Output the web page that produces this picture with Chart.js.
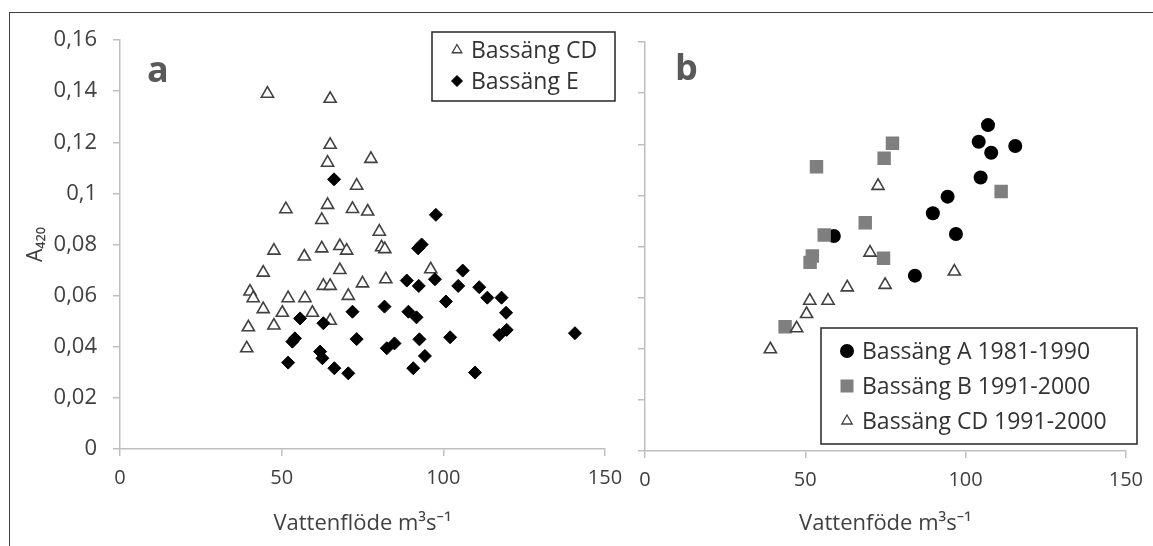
<!DOCTYPE html>
<html><head><meta charset="utf-8">
<script src="https://cdn.jsdelivr.net/npm/chart.js@4.4.0/dist/chart.umd.min.js"></script>
<style>
html,body{margin:0;padding:0;background:#fff;}
#wrap{position:relative;width:1153px;height:546px;overflow:hidden;background:#fff;}
#c1{position:absolute;left:0;top:0;}
#c2{position:absolute;left:600px;top:0;}
.frame{position:absolute;background:#404040;}
</style></head><body>
<div id="wrap">
<div class="frame" style="left:9px;top:12px;width:1144px;height:1px"></div>
<div class="frame" style="left:9px;top:12px;width:1px;height:534px"></div>
<canvas id="c1" width="640" height="546"></canvas>
<canvas id="c2" width="553" height="546"></canvas>
</div>
<script>
// ---- tick labels ----
const xTickValues = [0, 50, 100, 150];
const yTickLabels = ['0','0,02','0,04','0,06','0,08','0,1','0,12','0,14','0,16'];

// ---- panel a ----
const cdFlowA = [45.6,65.0,65.0,64.2,77.6,73.2,51.3,64.2,62.4,71.9,76.6,80.2,47.6,57.0,62.4,68.0,70.1,80.9,81.9,44.3,68.0,75.0,82.2,62.9,65.0,40.2,41.2,52.0,57.2,70.6,44.3,50.2,59.5,65.0,39.7,47.6,39.2,96.1];
const cdAbsA  = [0.139,0.137,0.119,0.112,0.1135,0.103,0.0938,0.0955,0.0896,0.0939,0.0929,0.085,0.0776,0.0753,0.0785,0.0794,0.0776,0.0789,0.0782,0.069,0.070,0.0648,0.0664,0.0638,0.0638,0.0616,0.059,0.059,0.059,0.0599,0.0547,0.0533,0.0533,0.0502,0.0476,0.0483,0.0394,0.0703];
const eFlow = [66.2,97.7,93.3,92.2,106.0,97.4,88.7,92.4,104.6,111.1,113.6,118.0,100.8,81.8,71.9,89.2,91.7,119.4,55.7,62.9,119.6,117.3,140.7,54.1,53.3,73.2,84.9,82.5,92.6,102.1,61.9,62.6,94.3,52.0,66.3,70.6,90.7,109.8];
const eAbs  = [0.1055,0.0916,0.0800,0.0785,0.0698,0.0664,0.0659,0.0638,0.0638,0.0633,0.0592,0.0592,0.0577,0.0557,0.0537,0.0537,0.0515,0.0533,0.0511,0.0492,0.0466,0.0446,0.0453,0.0433,0.0420,0.0430,0.0413,0.0394,0.0429,0.0437,0.0381,0.0355,0.0364,0.0338,0.0316,0.0296,0.0316,0.0299];

// ---- panel b ----
const aFlow = [107.0,104.1,108.0,115.5,104.7,94.4,89.8,97.0,58.9,84.2];
const aAbs  = [0.1275,0.121,0.1167,0.1193,0.107,0.0995,0.093,0.0849,0.0841,0.0686];
const bFlow = [77.2,74.6,53.5,111.1,68.7,55.9,52.2,51.5,74.4,43.7];
const bAbs  = [0.1204,0.1145,0.1112,0.1015,0.0893,0.0845,0.0763,0.0738,0.0754,0.0486];
const cdFlowB = [72.7,70.2,96.5,63.1,74.9,51.4,57.1,50.4,47.3,39.1];
const cdAbsB  = [0.1037,0.0776,0.0702,0.064,0.065,0.0588,0.0588,0.0536,0.048,0.0398];

const seriesLabelsA = ['Bassäng CD','Bassäng E'];
const seriesLabelsB = ['Bassäng A 1981-1990','Bassäng B 1991-2000','Bassäng CD 1991-2000'];

const FONT = "'Open Sans', 'Noto Sans', sans-serif";
const TXT = '#404040';
const AX = '#bfbfbf';

function pts(xs, ys){ return xs.map((x,i)=>({x:x, y:ys[i]})); }

function drawMarker(ctx, style, r, x, y, fill, stroke, bw){
  ctx.save();
  ctx.fillStyle = fill; ctx.strokeStyle = stroke; ctx.lineWidth = bw;
  ctx.beginPath();
  if (style === 'triangle'){
    ctx.moveTo(x, y - r);
    ctx.lineTo(x + Math.sin(2*Math.PI/3)*r, y + 0.5*r);
    ctx.lineTo(x - Math.sin(2*Math.PI/3)*r, y + 0.5*r);
    ctx.closePath();
  } else if (style === 'rectRot'){
    ctx.moveTo(x, y - r); ctx.lineTo(x + r, y); ctx.lineTo(x, y + r); ctx.lineTo(x - r, y); ctx.closePath();
  } else if (style === 'circle'){
    ctx.arc(x, y, r, 0, Math.PI*2);
  } else if (style === 'rect'){
    ctx.rect(x - r, y - r, 2*r, 2*r);
  }
  ctx.fill();
  if (bw > 0) ctx.stroke();
  ctx.restore();
}

function legendPlugin(cfg){
  return {
    id: 'customLegend',
    afterDraw(chart){
      const ctx = chart.ctx;
      ctx.save();
      ctx.font = "bold 36px " + FONT;
      ctx.fillStyle = '#595959';
      ctx.textBaseline = 'middle';
      ctx.textAlign = 'left';
      ctx.fillText(cfg.letter, cfg.letterX, cfg.letterY);
      ctx.strokeStyle = '#262626';
      ctx.lineWidth = 1.5;
      ctx.strokeRect(cfg.box[0], cfg.box[1], cfg.box[2], cfg.box[3]);
      ctx.font = cfg.fontSize + "px " + FONT;
      cfg.items.forEach(it => {
        drawMarker(ctx, it.style, it.r, cfg.markX, it.y, it.fill, it.stroke, it.bw);
        ctx.fillStyle = '#333333';
        ctx.fillText(it.text, cfg.textX, it.y + 1);
      });
      ctx.restore();
    }
  };
}

function axisCommon(){
  return {
    grid: {display:true, drawOnChartArea:false, drawTicks:true, tickLength:7, color:AX, lineWidth:1.5},
    border: {display:true, color:AX, width:1.5}
  };
}

function makeOptions(p){
  return {
    responsive:false, animation:false, devicePixelRatio:1,
    layout:{padding:{left:p.padL, right:p.padR, top:p.padT, bottom:0}},
    plugins:{legend:{display:false}, tooltip:{enabled:false}},
    scales:{
      x: Object.assign(axisCommon(), {
        type:'linear', min:0, max:150,
        afterBuildTicks(s){ s.ticks = xTickValues.map(v=>({value:v})); },
        ticks:{color:TXT, font:{family:FONT, size:20}, padding:10, maxRotation:0,
               callback:(v)=>String(v)},
        title:{display:true, text:p.xTitle, color:TXT, font:{family:FONT, size:22}, padding:{top:0, bottom:9}},
        afterFit(s){ s.height = p.xH; }
      }),
      y: Object.assign(axisCommon(), {
        type:'linear', min:0, max:0.16,
        afterBuildTicks(s){ s.ticks = yTickLabels.map((t,i)=>({value:i*0.02})); },
        ticks:{display:true, color:TXT, font:{family:FONT, size:22}, padding:16,
               callback:(v,i)=> p.yLabels ? yTickLabels[i] : ''},
        title:{display:p.yTitle, text:'A₄₂₀', color:TXT, font:{family:FONT, size:21}, padding:{top:13,bottom:0}},
        afterFit(s){ s.width = p.yW; }
      })
    }
  };
}

const triStyle = {pointStyle:'triangle', pointRadius:7, backgroundColor:'#ffffff', borderColor:'#404040', borderWidth:1.6};

new Chart(document.getElementById('c1'), {
  type:'scatter',
  data:{datasets:[
    Object.assign({label:seriesLabelsA[0], data:pts(cdFlowA, cdAbsA), order:2}, triStyle),
    {label:seriesLabelsA[1], data:pts(eFlow, eAbs), order:1, pointStyle:'rectRot', pointRadius:6.5,
     backgroundColor:'#000', borderColor:'#000', borderWidth:1}
  ]},
  options: makeOptions({padL:10, padR:35, padT:40, xH:97, yW:110, yLabels:true, yTitle:true, xTitle:'Vattenflöde m³s⁻¹'}),
  plugins:[legendPlugin({
    letter:'a', letterX:147, letterY:72,
    box:[432,32,183,69], fontSize:23, markX:457, textX:471,
    items:[
      {style:'triangle', r:5.5, y:50, fill:'#fff', stroke:'#404040', bw:1.3, text:seriesLabelsA[0]},
      {style:'rectRot', r:5.5, y:81, fill:'#000', stroke:'#000', bw:1, text:seriesLabelsA[1]}
    ]
  })]
});

new Chart(document.getElementById('c2'), {
  type:'scatter',
  data:{datasets:[
    {label:seriesLabelsB[0], data:pts(aFlow, aAbs), order:3, pointStyle:'circle', pointRadius:7,
     backgroundColor:'#000', borderColor:'#000', borderWidth:0},
    {label:seriesLabelsB[1], data:pts(bFlow, bAbs), order:2, pointStyle:'rect', pointRadius:9.5,
     backgroundColor:'#7f7f7f', borderColor:'#7f7f7f', borderWidth:0},
    Object.assign({label:seriesLabelsB[2], data:pts(cdFlowB, cdAbsB), order:1}, triStyle)
  ]},
  options: makeOptions({padL:0, padR:22, padT:42, xH:95, yW:45, yLabels:false, yTitle:false, xTitle:'Vattenföde m³s⁻¹'}),
  plugins:[legendPlugin({
    letter:'b', letterX:75, letterY:70,
    box:[221,328,316,116], fontSize:23, markX:247, textX:262,
    items:[
      {style:'circle', r:7, y:351, fill:'#000', stroke:'#000', bw:0, text:seriesLabelsB[0]},
      {style:'rect', r:6.5, y:386, fill:'#7f7f7f', stroke:'#7f7f7f', bw:0, text:seriesLabelsB[1]},
      {style:'triangle', r:6, y:421, fill:'#fff', stroke:'#404040', bw:1.3, text:seriesLabelsB[2]}
    ]
  })]
});
</script>
</body></html>
